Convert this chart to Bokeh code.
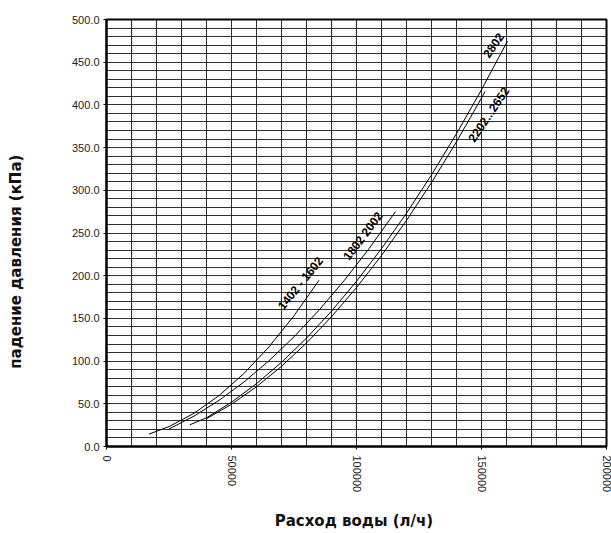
from bokeh.plotting import figure
from bokeh.models import FixedTicker, NumeralTickFormatter, Range1d
from bokeh.core.properties import value
from bokeh.embed import file_html
from bokeh.resources import INLINE

# Water flow (l/h) vs pressure drop (kPa) for each model group
q_1402_1602 = [17000, 25000, 35000, 45000, 55000, 65000, 75000, 85000]
dp_1402_1602 = [14.5, 23.3, 38.9, 59.6, 85.6, 116.7, 153.1, 194.6]

q_1802_2002 = [24800, 35000, 45000, 55000, 65000, 75000, 85000, 95000, 105000, 115600]
dp_1802_2002 = [20.1, 35.6, 54.0, 75.6, 100.4, 128.4, 159.6, 194.0, 231.7, 275.0]

q_2202_2652 = [40000, 50000, 60000, 70000, 80000, 90000, 100000, 110000, 120000,
               130000, 140000, 150000, 151400]
dp_2202_2652 = [32.5, 49.5, 70.0, 93.9, 121.2, 152.0, 186.1, 223.6, 264.7,
                309.0, 356.8, 408.0, 415.7]

q_2802 = [33400, 40000, 50000, 60000, 70000, 80000, 90000, 100000, 110000, 120000,
          130000, 140000, 150000, 160400]
dp_2802 = [25.5, 33.6, 51.9, 73.6, 98.6, 126.9, 158.5, 193.5, 231.7, 273.2,
           318.1, 366.3, 417.8, 474.8]

curve_names = ["1402 - 1602", "1802  2002", "2202...2652", "2802"]

x_ticks = [0, 50000, 100000, 150000, 200000]
y_ticks = [0, 50, 100, 150, 200, 250, 300, 350, 400, 450, 500]
x_grid_step = 10000
y_grid_step = 10

p = figure(width=611, height=533,
           x_range=Range1d(0, 200000), y_range=Range1d(0, 500),
           output_backend="svg", toolbar_location=None,
           min_border_left=106, min_border_right=5,
           min_border_top=19, min_border_bottom=83)

p.background_fill_color = "white"
p.border_fill_color = "white"
p.outline_line_color = "black"
p.outline_line_width = 2

# dense engineering grid
p.xgrid.ticker = FixedTicker(ticks=list(range(0, 200001, x_grid_step)))
p.ygrid.ticker = FixedTicker(ticks=list(range(0, 501, y_grid_step)))
for g in (p.xgrid, p.ygrid):
    g.grid_line_color = "#1a1a1a"
    g.grid_line_width = 1
    g.grid_line_alpha = 0.9

# axes
p.xaxis.ticker = FixedTicker(ticks=x_ticks)
p.yaxis.ticker = FixedTicker(ticks=y_ticks)
p.xaxis.formatter = NumeralTickFormatter(format="0")
p.yaxis.formatter = NumeralTickFormatter(format="0.0")
p.xaxis.major_label_orientation = "vertical"

for ax in (p.xaxis, p.yaxis):
    ax.axis_line_color = "black"
    ax.axis_line_width = 2
    ax.major_tick_in = 0
    ax.major_tick_out = 3
    ax.major_tick_line_color = "black"
    ax.minor_tick_line_color = None
    ax.major_label_text_font = "Liberation Sans"
    ax.major_label_text_font_size = "11px"
    ax.major_label_text_color = "#222222"
    ax.axis_label_text_font = "DejaVu Sans"
    ax.axis_label_text_font_style = "bold"
    ax.axis_label_text_font_size = "15px"
    ax.axis_label_text_color = "#111111"

p.yaxis.major_label_standoff = 4
p.xaxis.major_label_standoff = 6
p.xaxis.axis_label = "Расход воды  (л/ч)"
p.xaxis.axis_label_standoff = 17
# trailing no-break spaces push the vertical title a little below centre
p.yaxis.axis_label = "падение давления (кПа)" + "\u00a0" * 11
p.yaxis.axis_label_standoff = 44

# characteristic curves
for qs, dps in [(q_1402_1602, dp_1402_1602), (q_1802_2002, dp_1802_2002),
                (q_2202_2652, dp_2202_2652), (q_2802, dp_2802)]:
    p.line(qs, dps, line_color="black", line_width=1)

# curve captions, set along each curve
label_q = [77600, 103000, 152800, 154700]
label_dp = [191, 248, 389, 470]
label_angle = [51, 53, 56, 55]
p.text(x=label_q, y=label_dp, text=curve_names, angle=label_angle, angle_units="deg",
       text_align="center", text_baseline="middle",
       text_font=value("Liberation Sans"), text_font_style="bold",
       text_font_size="12px", text_color="black")

open("out.html", "w").write(file_html(p, INLINE))
